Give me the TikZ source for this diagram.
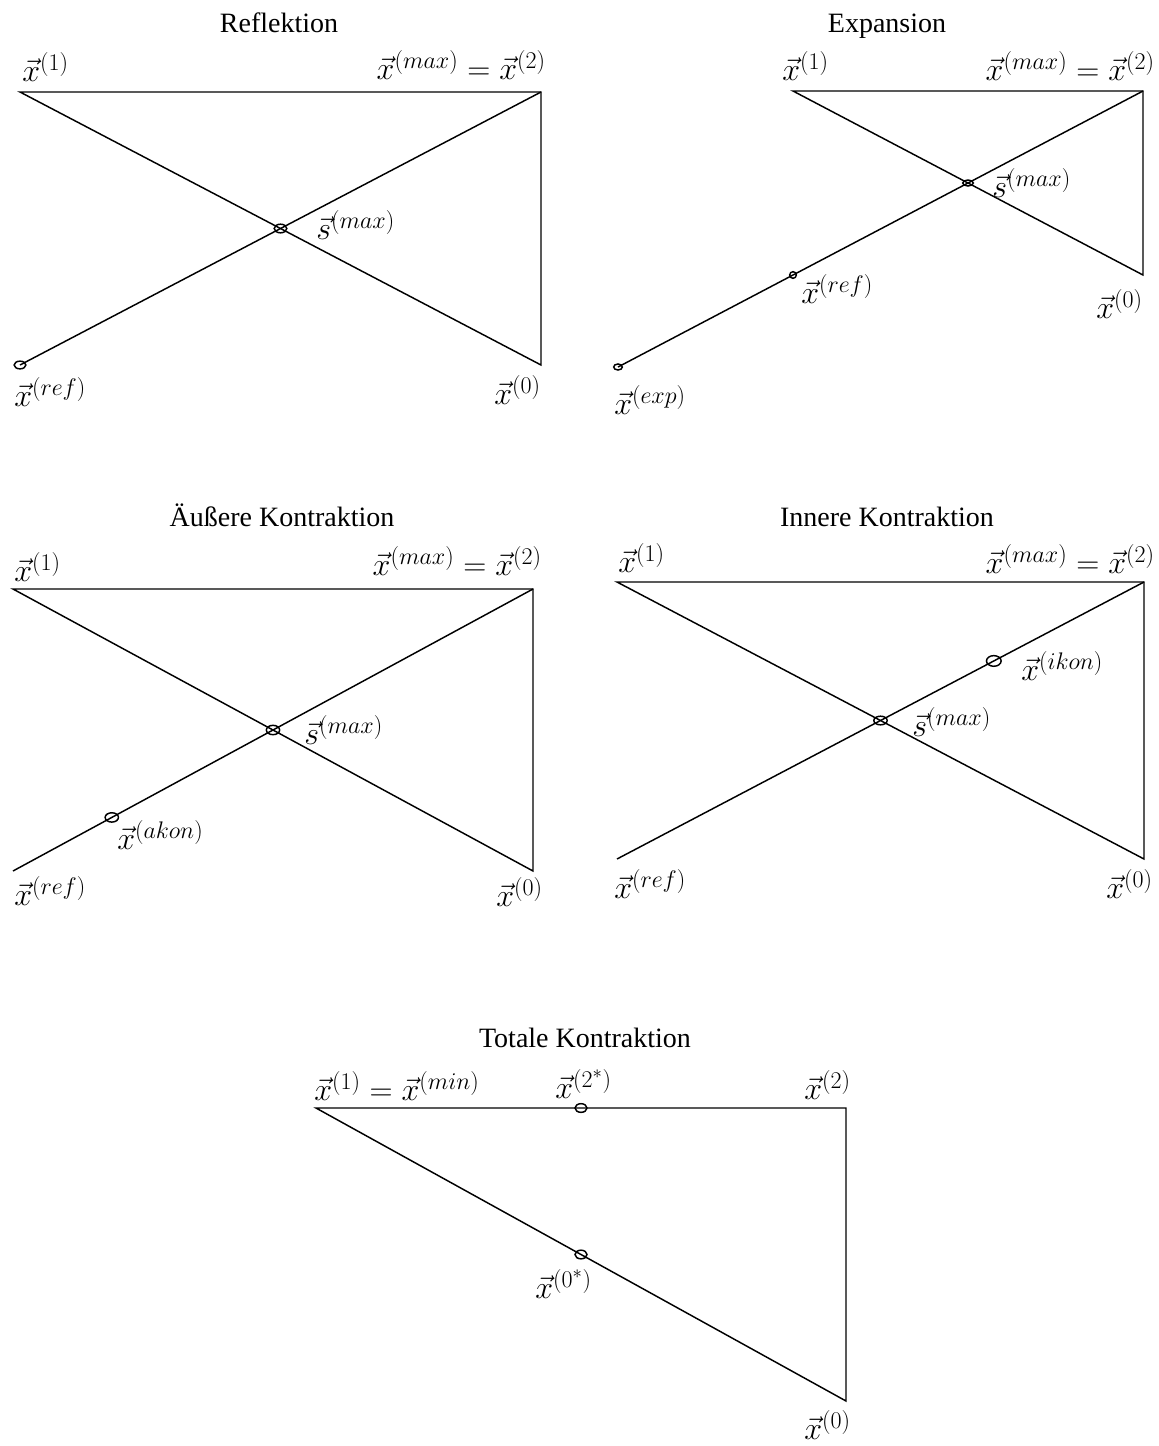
\RequirePackage{fix-cm}
\documentclass[tikz,border=0pt]{standalone}
\usepackage{fontspec}
\setmainfont{Liberation Serif}
\DeclareMathSizes{24}{24}{18}{14}
\usetikzlibrary{calc,shapes.geometric}

\begin{document}
\begin{tikzpicture}[x=0.75pt,y=-0.75pt,
  edge/.style={line width=1.1pt, line join=miter},
  dot/.style={draw, ellipse, line width=1.1pt, inner sep=0pt},
  title/.style={font=\fontsize{21}{25}\selectfont, anchor=base, inner sep=0pt},
  lab/.style={font=\fontsize{24}{28}\selectfont, inner sep=0pt}]
\useasboundingbox (0,0) rectangle (1158,1446);

% ---------- Reflektion ----------
\node[title] (t1) at (279,32) {Reflektion};
\coordinate (a1) at (20,92);
\coordinate (a2) at (541,92);
\coordinate (a0) at (541,365);
\coordinate (as) at ($(a1)!0.5!(a0)$);
\coordinate (ar) at ($(a2)!2!(as)$);
\draw[edge] (a1) -- (a2) -- (a0) -- cycle;
\draw[edge] (a2) -- (ar);
\node[dot, minimum width=9.5pt, minimum height=6.5pt] (asd) at (as) {};
\node[dot, minimum width=8.8pt, minimum height=5.8pt] (ard) at (ar) {};
\node[lab, anchor=west] (la1) at (22,67) {$\vec{x}^{(1)}$};
\node[lab, anchor=east] (la2) at (546,65) {$\vec{x}^{(max)}=\vec{x}^{(2)}$};
\node[lab, anchor=west] (las) at (316,225) {$\vec{s}^{(max)}$};
\node[lab, anchor=west] (lar) at (14,392) {$\vec{x}^{(ref)}$};
\node[lab, anchor=east] (la0) at (541,390) {$\vec{x}^{(0)}$};

% ---------- Expansion ----------
\node[title] (t2) at (887,32) {Expansion};
\coordinate (b1) at (793,91);
\coordinate (b2) at (1143,91);
\coordinate (b0) at (1143,275);
\coordinate (bs) at ($(b1)!0.5!(b0)$);
\coordinate (br) at ($(b2)!2!(bs)$);
\coordinate (be) at ($(b2)!3!(bs)$);
\draw[edge] (b1) -- (b2) -- (b0) -- cycle;
\draw[edge] (b2) -- (be);
\node[dot, minimum width=8pt, minimum height=4.5pt] (bsd) at (bs) {};
\node[dot, minimum width=5pt, minimum height=5pt] (brd) at (br) {};
\node[dot, minimum width=6.5pt, minimum height=4.5pt] (bed) at (be) {};
\node[lab, anchor=west] (lb1) at (782,66) {$\vec{x}^{(1)}$};
\node[lab, anchor=east] (lb2) at (1155,66) {$\vec{x}^{(max)}=\vec{x}^{(2)}$};
\node[lab, anchor=west] (lbs) at (992,183) {$\vec{s}^{(max)}$};
\node[lab, anchor=west] (lbr) at (801,289) {$\vec{x}^{(ref)}$};
\node[lab, anchor=east] (lb0) at (1143,304) {$\vec{x}^{(0)}$};
\node[lab, anchor=west] (lbe) at (614,400) {$\vec{x}^{(exp)}$};

% ---------- Aeussere Kontraktion ----------
\node[title] (t3) at (282,526) {Äußere Kontraktion};
\coordinate (c1) at (13,589);
\coordinate (c2) at (533,589);
\coordinate (c0) at (533,871);
\coordinate (cs) at ($(c1)!0.5!(c0)$);
\coordinate (cr) at ($(c2)!2!(cs)$);
\coordinate (ca) at ($(cs)!0.62!(cr)$);
\draw[edge] (c1) -- (c2) -- (c0) -- cycle;
\draw[edge] (c2) -- (cr);
\node[dot, minimum width=10pt, minimum height=7pt] (csd) at (cs) {};
\node[dot, minimum width=10pt, minimum height=7pt] (cad) at (ca) {};
\node[lab, anchor=west] (lc1) at (14,567) {$\vec{x}^{(1)}$};
\node[lab, anchor=east] (lc2) at (542,561) {$\vec{x}^{(max)}=\vec{x}^{(2)}$};
\node[lab, anchor=west] (lcs) at (304,730) {$\vec{s}^{(max)}$};
\node[lab, anchor=west] (lca) at (117,835) {$\vec{x}^{(akon)}$};
\node[lab, anchor=west] (lcr) at (14,891) {$\vec{x}^{(ref)}$};
\node[lab, anchor=east] (lc0) at (543,892) {$\vec{x}^{(0)}$};

% ---------- Innere Kontraktion ----------
\node[title] (t4) at (887,526) {Innere Kontraktion};
\coordinate (d1) at (617,582);
\coordinate (d2) at (1144,582);
\coordinate (d0) at (1144,859);
\coordinate (ds) at ($(d1)!0.5!(d0)$);
\coordinate (dr) at ($(d2)!2!(ds)$);
\coordinate (di) at ($(ds)!0.43!(d2)$);
\draw[edge] (d1) -- (d2) -- (d0) -- cycle;
\draw[edge] (d2) -- (dr);
\node[dot, minimum width=10pt, minimum height=6.5pt] (dsd) at (ds) {};
\node[dot, minimum width=11pt, minimum height=8pt] (did) at (di) {};
\node[lab, anchor=west] (ld1) at (618,558) {$\vec{x}^{(1)}$};
\node[lab, anchor=east] (ld2) at (1155,559) {$\vec{x}^{(max)}=\vec{x}^{(2)}$};
\node[lab, anchor=west] (ldi) at (1021,666) {$\vec{x}^{(ikon)}$};
\node[lab, anchor=west] (lds) at (912,722) {$\vec{s}^{(max)}$};
\node[lab, anchor=west] (ldr) at (614,884) {$\vec{x}^{(ref)}$};
\node[lab, anchor=east] (ld0) at (1153,884) {$\vec{x}^{(0)}$};

% ---------- Totale Kontraktion ----------
\node[title] (t5) at (585,1047) {Totale Kontraktion};
\coordinate (e1) at (316,1108);
\coordinate (e2) at (846,1108);
\coordinate (e0) at (846,1401);
\coordinate (e2s) at ($(e1)!0.5!(e2)$);
\coordinate (e0s) at ($(e1)!0.5!(e0)$);
\draw[edge] (e1) -- (e2) -- (e0) -- cycle;
\node[dot, minimum width=9pt, minimum height=6.5pt] (e2d) at (e2s) {};
\node[dot, minimum width=9pt, minimum height=6.5pt] (e0d) at (e0s) {};
\node[lab, anchor=west] (le1) at (314,1086) {$\vec{x}^{(1)}=\vec{x}^{(min)}$};
\node[lab, anchor=west] (le2s) at (555,1084) {$\vec{x}^{(2^{*})}$};
\node[lab, anchor=east] (le2) at (851,1085) {$\vec{x}^{(2)}$};
\node[lab, anchor=west] (le0s) at (535,1284) {$\vec{x}^{(0^{*})}$};
\node[lab, anchor=east] (le0) at (851,1425) {$\vec{x}^{(0)}$};
\end{tikzpicture}
\end{document}
